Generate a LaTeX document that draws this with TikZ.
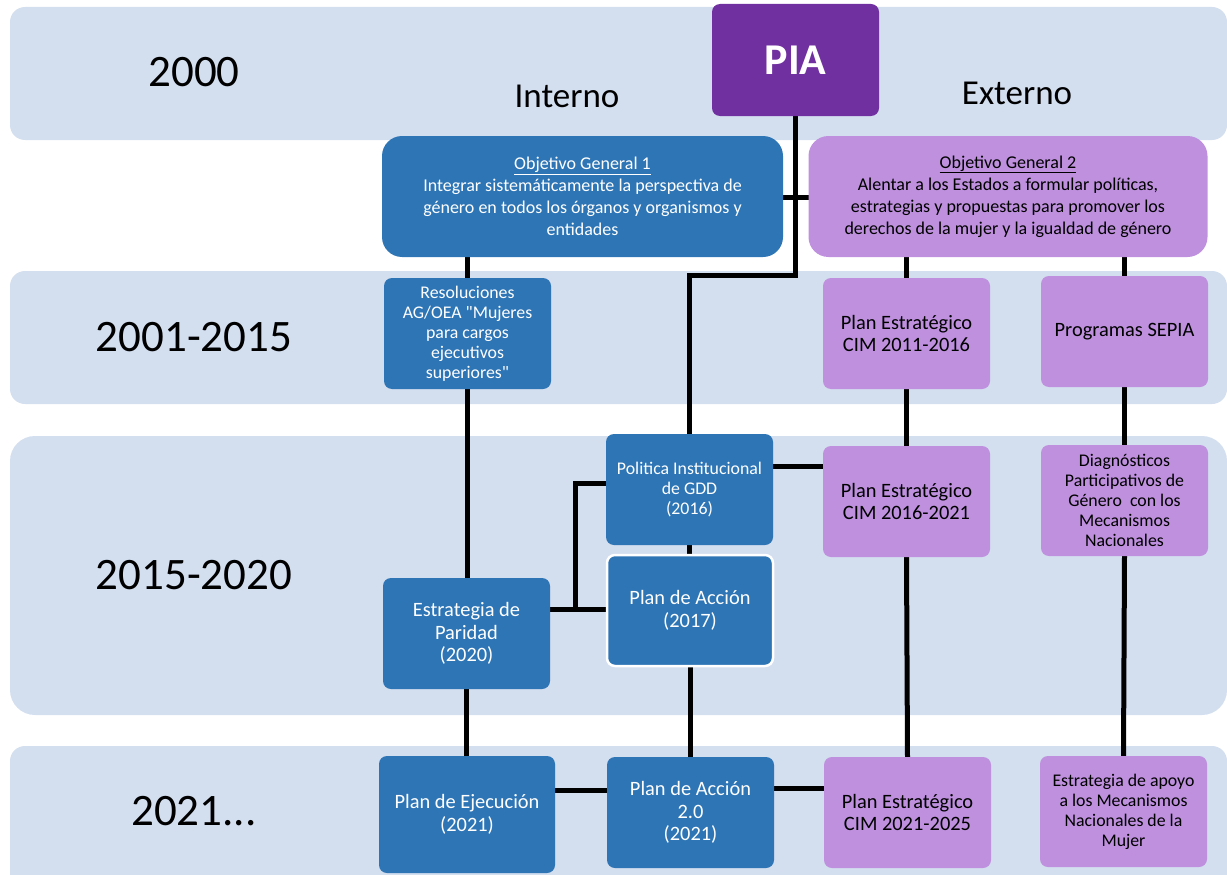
\documentclass[tikz,border=0pt]{standalone}
\usepackage{fontspec}
\setmainfont{Carlito}[Ligatures=TeXOff]
\usetikzlibrary{calc}
\definecolor{bandcol}{HTML}{D3DEEF}
\definecolor{bluebox}{HTML}{2E75B6}
\definecolor{lilac}{HTML}{BE90DE}
\definecolor{piapurple}{HTML}{7030A0}
\pgfdeclarelayer{bg}
\pgfdeclarelayer{lines}
\pgfsetlayers{bg,lines,main}
\tikzset{
  bandbox/.style={fill=bandcol, draw=none, rounded corners=15pt},
  boxbase/.style={draw=none, align=center, inner sep=0pt, outer sep=0pt, rounded corners=8pt},
  bbox/.style={boxbase, fill=bluebox, text=white},
  pbox/.style={boxbase, fill=lilac, text=black},
  conn/.style={draw=black, line width=5pt},
  yearlbl/.style={font=\fontsize{45}{54}\selectfont, inner sep=0pt},
  sidelbl/.style={font=\fontsize{35}{42}\selectfont, inner sep=0pt},
  fA/.style={font=\fontsize{17.8}{20}\selectfont},
  fB/.style={font=\fontsize{20.4}{22.5}\selectfont},
  fO/.style={font=\fontsize{18}{22}\selectfont},
}
\begin{document}
\begin{tikzpicture}[x=1pt,y=-1pt]
\useasboundingbox (0,0) rectangle (1227,875);

% bands
\begin{pgfonlayer}{bg}
\fill[bandbox] (10,7) rectangle (1227,140);
\fill[bandbox] (10,271) rectangle (1227,404);
\fill[bandbox, rounded corners=25pt] (10,436) rectangle (1227,715);
\fill[bandbox] (10,746) rectangle (1227,900);
\end{pgfonlayer}

% labels
\node[yearlbl] (y1) at (194,72) {2000};
\node[yearlbl] (y2) at (194,337) {2001-2015};
\node[yearlbl] (y3) at (194,575) {2015-2020};
\node[yearlbl] (y4) at (194,811) {2021...};
\node[sidelbl] (int) at (567,96) {Interno};
\node[sidelbl] (ext) at (1017,93) {Externo};

% PIA
\node[boxbase, fill=piapurple, text=white, font=\fontsize{44}{50}\selectfont\bfseries,
      minimum width=167pt, minimum height=112pt] (pia) at (795.5,60) {PIA};

% objectives
\node[bbox, fO, rounded corners=20pt, minimum width=401pt, minimum height=121pt] (obj1) at (582.5,196.5)
  {\underline{Objetivo General 1}\\Integrar sistemáticamente la perspectiva de\\género en todos los órganos y organismos y\\entidades};
\node[pbox, fO, rounded corners=20pt, minimum width=399pt, minimum height=121pt] (obj2) at (1008,196.5)
  {\underline{Objetivo General 2}\\Alentar a los Estados a formular políticas,\\estrategias y propuestas para promover los\\derechos de la mujer y la igualdad de género};

% row 2001-2015
\node[bbox, fA, minimum width=167pt, minimum height=111pt] (res) at (467.5,333.5)
  {Resoluciones\\AG/OEA "Mujeres\\para cargos\\ejecutivos\\superiores"};
\node[pbox, fB, minimum width=167pt, minimum height=111pt] (pe1) at (906.5,333.5)
  {Plan Estratégico\\CIM 2011-2016};
\node[pbox, fB, minimum width=167pt, minimum height=111pt] (sep) at (1124.5,331.5)
  {Programas SEPIA};

% row 2015-2020
\node[bbox, fA, minimum width=167pt, minimum height=111pt] (pol) at (689.5,489.5)
  {Politica Institucional\\de GDD\\(2016)};
\node[bbox, fB, draw=white, line width=2.5pt, minimum width=166pt, minimum height=111pt] (acc) at (690,610.5)
  {Plan de Acción\\(2017)};
\node[bbox, fB, minimum width=167pt, minimum height=111pt] (par) at (466.5,633.5)
  {Estrategia de\\Paridad\\(2020)};
\node[pbox, fB, minimum width=167pt, minimum height=111pt] (pe2) at (906.5,501.5)
  {Plan Estratégico\\CIM 2016-2021};
\node[pbox, fA, minimum width=167pt, minimum height=111pt] (dia) at (1124.5,500.5)
  {Diagnósticos\\Participativos de\\Género\ \ con los\\Mecanismos\\Nacionales};

% row 2021
\node[bbox, fB, minimum width=176pt, minimum height=117pt] (eje) at (467,814.5)
  {Plan de Ejecución\\(2021)};
\node[bbox, fB, minimum width=167pt, minimum height=111pt] (acc2) at (690.5,812.5)
  {Plan de Acción\\2.0\\(2021)};
\node[pbox, fB, minimum width=167pt, minimum height=111pt] (pe3) at (907.5,812.5)
  {Plan Estratégico\\CIM 2021-2025};
\node[pbox, fA, minimum width=167pt, minimum height=111pt] (apo) at (1123.5,811.5)
  {Estrategia de apoyo\\a los Mecanismos\\Nacionales de la\\Mujer};

% helper coordinates
\coordinate (hA) at (0,197);
\coordinate (hB) at (0,275);
\coordinate (hC) at (0,466);
\coordinate (hD) at (575,483);
\coordinate (hE) at (575,609);
\coordinate (hF) at (0,790);
\coordinate (hG) at (0,788);

\begin{pgfonlayer}{lines}
\draw[conn] (pia.south) -- (pia.south |- hB) -| (pol.north);
\draw[conn] (obj1.east |- hA) -- (obj2.west |- hA);
\draw[conn] (res.north |- obj1.south) -- (res.north);
\draw[conn] (res.south) -- (res.south |- par.north);
\draw[conn] (pe1.north |- obj2.south) -- (pe1.north);
\draw[conn] (sep.north |- obj2.south) -- (sep.north);
\draw[conn] (pe1.south) -- (pe2.north);
\draw[conn] (pe2.south) -- (pe3.north);
\draw[conn] (sep.south) -- (dia.north);
\draw[conn] (dia.south) -- (apo.north);
\draw[conn] (pol.east |- hC) -- (pe2.west |- hC);
\draw[conn] (pol.south) -- (pol.south |- acc.north);
\draw[conn] (par.east |- hE) -- (acc.west |- hE);
\draw[conn] (hE) -- (hD) -- (pol.west |- hD);
\draw[conn] (par.south) -- (par.south |- eje.north);
\draw[conn] (acc.south) -- (acc.south |- acc2.north);
\draw[conn] (eje.east |- hF) -- (acc2.west |- hF);
\draw[conn] (acc2.east |- hG) -- (pe3.west |- hG);
\end{pgfonlayer}
\end{tikzpicture}
\end{document}
